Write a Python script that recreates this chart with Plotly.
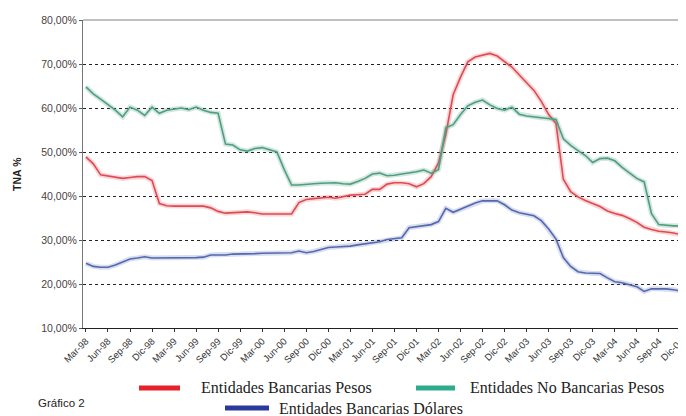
import plotly.graph_objects as go

# ---- data ----
month_abbr = ["Ene", "Feb", "Mar", "Abr", "May", "Jun", "Jul", "Ago", "Sep", "Oct", "Nov", "Dic"]
months = []
for yr in range(1998, 2005):
    for mi, ab in enumerate(month_abbr):
        if yr == 1998 and mi < 2:
            continue
        months.append(f"{ab}-{str(yr)[2:]}")  # 82 months: Mar-98 .. Dic-04

bancarias_pesos = [
    48.9, 47.3, 44.8, 44.5, 44.2, 44.0, 44.2, 44.4, 44.4, 43.5,
    38.3, 37.8, 37.7, 37.7, 37.7, 37.7, 37.7, 37.3, 36.5, 36.1,
    36.2, 36.3, 36.4, 36.2, 35.9, 35.9, 35.9, 35.9, 35.9, 38.5,
    39.2, 39.4, 39.6, 39.7, 39.5, 39.8, 40.2, 40.3, 40.4, 41.5,
    41.5, 42.7, 43.0, 43.0, 42.8, 42.1, 42.8, 44.4, 47.5, 54.0,
    63.0, 67.0, 70.5, 71.6, 72.0, 72.4, 71.8, 70.5, 69.3, 67.5,
    65.8, 64.0, 61.5, 58.5, 56.5, 43.8, 41.0, 39.8, 39.0, 38.3,
    37.6, 36.6, 36.0, 35.6, 34.9, 34.0, 32.9, 32.4, 32.0, 31.8,
    31.6, 31.2]

no_bancarias_pesos = [
    64.8, 63.2, 62.0, 60.8, 59.5, 58.0, 60.2, 59.5, 58.3, 60.2,
    58.8, 59.5, 59.8, 60.0, 59.6, 60.2, 59.5, 59.0, 58.8, 51.8,
    51.6, 50.5, 50.2, 50.8, 51.0, 50.5, 50.0, 46.0, 42.5, 42.5,
    42.7, 42.8, 42.9, 43.0, 43.0, 42.8, 42.7, 43.3, 44.0, 45.0,
    45.2, 44.6, 44.7, 45.0, 45.2, 45.5, 45.9, 45.2, 46.0, 55.5,
    56.2, 58.5, 60.5, 61.3, 61.8, 60.7, 59.9, 59.5, 60.2, 58.6,
    58.2, 58.0, 57.8, 57.5, 57.4, 53.0, 51.5, 50.3, 49.2, 47.6,
    48.5, 48.6, 48.0, 46.5, 45.2, 44.0, 43.2, 36.0, 33.5, 33.3,
    33.2, 33.2]

bancarias_dolares = [
    24.7, 24.0, 23.8, 23.8, 24.3, 25.0, 25.7, 25.9, 26.2, 25.9,
    25.9, 26.0, 26.0, 26.0, 26.0, 26.0, 26.1, 26.6, 26.6, 26.6,
    26.8, 26.8, 26.9, 26.9, 27.0, 27.0, 27.0, 27.1, 27.1, 27.5,
    27.1, 27.4, 27.9, 28.3, 28.4, 28.5, 28.6, 28.9, 29.1, 29.4,
    29.6, 30.1, 30.3, 30.5, 32.8, 33.0, 33.2, 33.5, 34.2, 37.2,
    36.3, 37.0, 37.8, 38.4, 38.9, 38.9, 38.9, 38.0, 36.8, 36.2,
    35.8, 35.5, 34.4, 32.5, 30.2, 26.0, 24.0, 22.8, 22.5, 22.4,
    22.4, 21.4, 20.5, 20.3, 19.9, 19.4, 18.3, 18.9, 18.9, 18.9,
    18.7, 18.4]

tick_labels = months[::3]
y_ticks = [10, 20, 30, 40, 50, 60, 70, 80]
y_tick_text = ["10,00%", "20,00%", "30,00%", "40,00%", "50,00%", "60,00%", "70,00%", "80,00%"]

series = [
    ("Entidades Bancarias Pesos", bancarias_pesos, "#e04a50", "rgba(224,74,80,0.22)", "#e8202a"),
    ("Entidades No Bancarias Pesos", no_bancarias_pesos, "#4f9e80", "rgba(79,158,128,0.25)", "#2eab8c"),
    ("Entidades Bancarias Dólares", bancarias_dolares, "#5468b0", "rgba(84,104,176,0.22)", "#2a3a9c"),
]

fig = go.Figure()
for name, vals, col, glow, _ in series:
    fig.add_trace(go.Scatter(x=months, y=vals, mode="lines", line=dict(color=glow, width=5),
                             hoverinfo="skip", showlegend=False))
    fig.add_trace(go.Scatter(x=months, y=vals, mode="lines", name=name,
                             line=dict(color=col, width=1.6), showlegend=False))

# page body has an 8px margin, so the figure is 8px smaller and shifted
fig.update_layout(
    width=678, height=408,
    margin=dict(l=75, r=0, t=12, b=88),
    paper_bgcolor="white", plot_bgcolor="white",
    font=dict(family="Liberation Sans, Arial, sans-serif", size=9, color="#333"),
)
fig.update_xaxes(
    type="category", range=[-0.4, 81.7], automargin=False,
    tickmode="array", tickvals=tick_labels, ticktext=tick_labels,
    tickangle=-45, ticks="outside", ticklen=3, tickcolor="#333",
    showline=True, linecolor="#222", linewidth=1, showgrid=False,
    tickfont=dict(size=9.5, color="#333"),
)
fig.update_yaxes(
    range=[10, 80], tickmode="array", tickvals=y_ticks, ticktext=y_tick_text, automargin=False,
    ticks="outside", ticklen=3, tickcolor="#555",
    showline=True, linecolor="#777", linewidth=1,
    showgrid=True, gridcolor="#222", griddash="dot", gridwidth=1,
    zeroline=False, tickfont=dict(size=10.5, color="#444"),
)

shapes = [dict(type="line", xref="paper", yref="paper", x0=0, x1=1, y0=1, y1=1,
               line=dict(color="#aaa", width=1.5))]
annotations = [
    dict(text="<b>TNA %</b>", xref="paper", yref="paper", x=-0.1095, y=0.5,
         xanchor="center", yanchor="middle",
         textangle=-90, showarrow=False, font=dict(size=10.5, color="#222")),
    dict(text="Gráfico 2", xref="paper", yref="paper", x=-0.0779, y=-0.2435,
         xanchor="left", yanchor="middle", showarrow=False, font=dict(size=11.5, color="#222")),
]
legend_pos = [(0.0929, 0.1609, 0.1924, -0.1948), (0.5522, 0.617, 0.6385, -0.1948), (0.2355, 0.3085, 0.3217, -0.2600)]
for (name, _, _, _, lcol), (x0, x1, xt, yy) in zip(series, legend_pos):
    shapes.append(dict(type="line", xref="paper", yref="paper", x0=x0, x1=x1, y0=yy, y1=yy,
                       line=dict(color=lcol, width=5)))
    annotations.append(dict(text=name, xref="paper", yref="paper", x=xt, y=yy,
                            xanchor="left", yanchor="middle", showarrow=False,
                            font=dict(family="Liberation Serif, Times New Roman, serif", size=16, color="#222")))
fig.update_layout(shapes=shapes, annotations=annotations)

fig.write_html("out.html")
